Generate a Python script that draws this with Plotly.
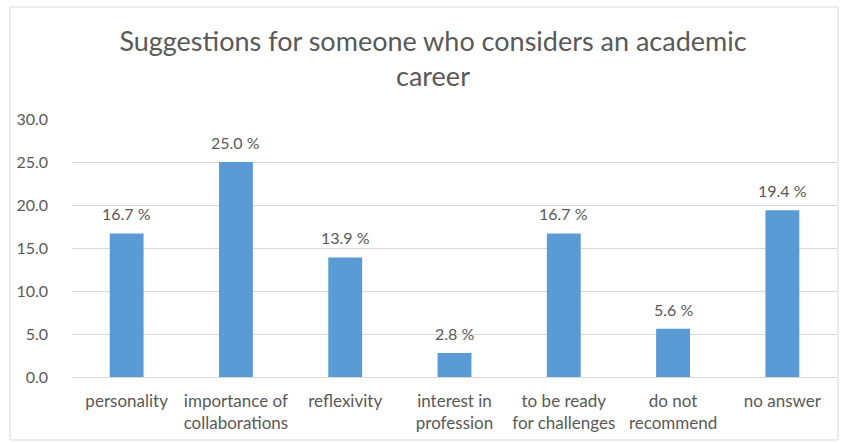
import plotly.graph_objects as go

categories = [
    "personality",
    "importance of<br>collaborations",
    "reflexivity",
    "interest in<br>profession",
    "to be ready<br>for challenges",
    "do not<br>recommend",
    "no answer",
]
values = [16.7, 25.0, 13.9, 2.8, 16.7, 5.6, 19.4]
y_ticks = [0, 5, 10, 15, 20, 25, 30]

FONT = "Lato"
GREY = "#595959"

W, H = 844, 443
ML, MR, MT, MB = 72, 7, 119, 66
pw, ph = W - ML - MR, H - MT - MB

fig = go.Figure(
    go.Bar(
        x=categories,
        y=values,
        marker=dict(color="#5B9BD5", line=dict(width=0)),
        width=0.31,
        hoverinfo="x+y",
    )
)

# value labels sitting above each bar
for c, v in zip(categories, values):
    fig.add_annotation(
        x=c, y=v, xref="x", yref="y",
        text=f"{v:.1f} %", showarrow=False,
        xanchor="center", yanchor="bottom", yshift=8,
        font=dict(family=FONT, size=16, color=GREY),
    )

# outer chart frame, expressed in plot-area paper coordinates
fig.add_shape(
    type="rect", xref="paper", yref="paper",
    x0=(10 - ML) / pw, x1=(838 - ML) / pw,
    y0=(H - 440 - MB) / ph, y1=(H - 7 - MB) / ph,
    line=dict(color="#D9D9D9", width=1), fillcolor="rgba(0,0,0,0)", layer="below",
)

fig.update_layout(
    width=W, height=H,
    margin=dict(l=ML, r=MR, t=MT, b=MB),
    paper_bgcolor="white", plot_bgcolor="white",
    showlegend=False,
    title=dict(
        text="Suggestions for someone who considers an academic<br>career",
        x=433 / W, xanchor="center", xref="container",
        y=1 - 51 / H, yanchor="top", yref="container",
        font=dict(family=FONT, size=27, color=GREY),
    ),
    xaxis=dict(
        tickfont=dict(family=FONT, size=17, color=GREY),
        showgrid=False, showline=False, ticks="",
        ticklabelstandoff=12,
    ),
    yaxis=dict(
        range=[0, 30], tickvals=y_ticks, tickformat=".1f",
        tickfont=dict(family=FONT, size=16, color=GREY),
        showgrid=True, gridcolor="#D9D9D9", gridwidth=1,
        zeroline=True, zerolinecolor="#D9D9D9", zerolinewidth=1,
        showline=False, ticks="", ticklabelstandoff=23,
    ),
)

fig.write_html("out.html")
